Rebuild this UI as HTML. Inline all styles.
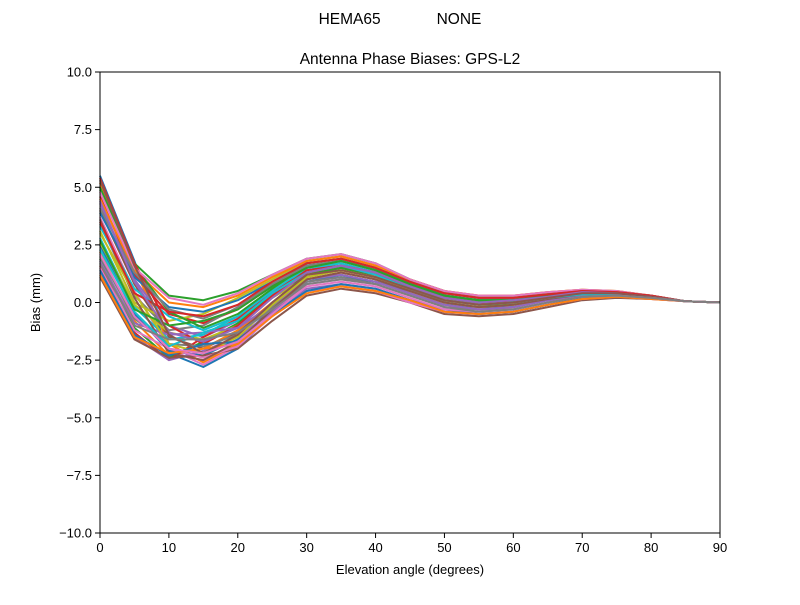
<!DOCTYPE html>
<html><head><meta charset="utf-8"><style>
body{margin:0;background:#fff;width:800px;height:600px;overflow:hidden}
text{font-family:"Liberation Sans","DejaVu Sans",sans-serif;fill:#000}
</style></head><body>
<svg id="chart" width="800" height="600" viewBox="0 0 800 600" xmlns="http://www.w3.org/2000/svg">
<rect width="800" height="600" fill="#fff"/>
<text x="400" y="24" text-anchor="middle" font-size="15.5" xml:space="preserve">HEMA65             NONE</text>
<text x="410" y="64" text-anchor="middle" font-size="15.5">Antenna Phase Biases: GPS-L2</text>
<g id="series"></g>
<rect x="100" y="72" width="620" height="461" fill="none" stroke="#000" stroke-width="1"/>
<g id="axes"></g>
<text x="410" y="574" text-anchor="middle" font-size="13">Elevation angle (degrees)</text>
<text transform="translate(40,302.5) rotate(-90)" text-anchor="middle" font-size="13">Bias (mm)</text>
</svg>
<script>
const elevations=[0,5,10,15,20,25,30,35,40,45,50,55,60,65,70,75,80,85,90];
const xTicks=[0,10,20,30,40,50,60,70,80,90];
const yTicks=[-10,-7.5,-5,-2.5,0,2.5,5,7.5,10];
const yTickLabels=["\u221210.0","\u22127.5","\u22125.0","\u22122.5","0.0","2.5","5.0","7.5","10.0"];
const s1=[5.5,1.8,-2.2,-2.8,-2.0,-0.5,0.9,1.1,0.9,0.5,0.1,-0.1,0.0,0.2,0.4,0.4,0.25,0.05,0];
const s2=[5.2,1.5,-1.8,-2.6,-1.8,-0.2,1.3,1.5,1.2,0.7,0.3,0.1,0.1,0.3,0.45,0.4,0.25,0.05,0];
const s3=[4.9,1.7,0.3,0.1,0.5,1.2,1.9,2.1,1.7,1.0,0.5,0.2,0.2,0.4,0.5,0.45,0.3,0.05,0];
const s4=[4.6,1.2,-0.5,-0.9,-0.3,0.7,1.7,1.9,1.5,0.9,0.4,0.2,0.2,0.35,0.5,0.45,0.3,0.05,0];
const s5=[4.3,1.0,-1.0,-1.5,-0.8,0.4,1.5,1.8,1.4,0.8,0.3,0.1,0.1,0.3,0.45,0.4,0.25,0.05,0];
const s6=[4.0,0.8,-1.5,-2.0,-1.3,0.0,1.2,1.5,1.2,0.7,0.2,0.0,0.0,0.2,0.4,0.4,0.25,0.05,0];
const s7=[3.7,0.5,-2.0,-2.7,-1.9,-0.4,0.8,1.0,0.8,0.3,-0.2,-0.3,-0.2,0.1,0.3,0.35,0.2,0.05,0];
const s8=[3.4,0.3,-1.2,-1.0,-0.2,0.8,1.6,1.8,1.4,0.8,0.3,0.1,0.1,0.3,0.45,0.4,0.25,0.05,0];
const s9=[3.1,0.0,-0.8,-0.5,0.2,1.0,1.8,2.0,1.6,1.0,0.5,0.3,0.3,0.45,0.55,0.5,0.3,0.05,0];
const s10=[2.8,-0.2,-1.6,-1.4,-0.6,0.5,1.4,1.7,1.3,0.7,0.2,0.0,0.0,0.25,0.4,0.4,0.25,0.05,0];
const s11=[2.5,-0.5,-2.1,-2.3,-1.6,-0.3,0.9,1.2,0.9,0.4,-0.1,-0.2,-0.2,0.1,0.3,0.35,0.2,0.05,0];
const s12=[2.2,-0.8,-2.3,-2.0,-1.2,0.0,1.0,1.3,1.0,0.5,0.0,-0.2,-0.1,0.15,0.35,0.35,0.2,0.05,0];
const s13=[1.9,-1.1,-2.4,-1.7,-0.9,0.3,1.2,1.5,1.1,0.6,0.1,-0.1,-0.1,0.2,0.35,0.35,0.2,0.05,0];
const s14=[1.6,-1.3,-2.5,-1.5,-0.7,0.5,1.3,1.6,1.2,0.6,0.1,-0.1,0.0,0.2,0.35,0.35,0.2,0.05,0];
const s15=[1.3,-1.5,-2.5,-2.1,-1.5,-0.4,0.6,0.8,0.6,0.1,-0.4,-0.5,-0.4,-0.1,0.2,0.3,0.2,0.05,0];
const s16=[1.1,-1.6,-2.4,-2.3,-2.0,-0.8,0.3,0.6,0.4,0.0,-0.5,-0.6,-0.5,-0.2,0.1,0.2,0.15,0.05,0];
const s17=[1.5,-1.2,-2.0,-2.4,-1.9,-0.6,0.5,0.7,0.5,0.0,-0.4,-0.5,-0.4,-0.1,0.15,0.25,0.15,0.05,0];
const s18=[2.0,-0.7,-1.8,-1.9,-1.4,-0.2,0.9,1.1,0.8,0.3,-0.2,-0.3,-0.3,0.0,0.25,0.3,0.2,0.05,0];
const s19=[2.6,-0.1,-1.3,-1.6,-1.0,0.2,1.1,1.4,1.1,0.5,0.0,-0.2,-0.1,0.15,0.35,0.35,0.2,0.05,0];
const s20=[3.3,0.6,-0.6,-1.2,-0.6,0.5,1.5,1.7,1.3,0.8,0.3,0.1,0.1,0.3,0.45,0.4,0.25,0.05,0];
const s21=[3.9,1.1,-0.2,-0.4,0.1,0.9,1.7,1.9,1.5,0.9,0.4,0.2,0.2,0.35,0.5,0.45,0.3,0.05,0];
const s22=[4.5,1.4,0.0,-0.2,0.3,1.1,1.8,2.0,1.6,1.0,0.5,0.3,0.3,0.45,0.55,0.5,0.3,0.05,0];
const s23=[5.0,1.6,-0.4,-1.1,-0.5,0.6,1.6,1.8,1.4,0.8,0.3,0.1,0.1,0.3,0.45,0.4,0.25,0.05,0];
const s24=[5.4,1.7,-1.0,-1.8,-1.0,0.3,1.4,1.6,1.3,0.7,0.2,0.0,0.0,0.25,0.4,0.4,0.25,0.05,0];
const s25=[1.8,-0.9,-1.4,-1.3,-1.1,-0.1,1.0,1.2,0.9,0.4,-0.1,-0.3,-0.2,0.1,0.3,0.3,0.2,0.05,0];
const s26=[3.6,0.2,-2.2,-2.5,-1.7,-0.3,1.0,1.3,1.0,0.5,0.0,-0.2,-0.1,0.15,0.35,0.35,0.2,0.05,0];
const s27=[4.8,1.5,0.2,-0.1,0.4,1.2,1.9,2.1,1.7,1.0,0.5,0.3,0.3,0.45,0.55,0.5,0.3,0.05,0];
const s28=[4.1,1.3,-0.3,-0.7,-0.1,0.8,1.6,1.8,1.4,0.9,0.4,0.2,0.2,0.35,0.5,0.45,0.3,0.05,0];
const s29=[3.0,0.4,-1.8,-2.2,-1.5,-0.1,1.1,1.4,1.1,0.6,0.1,-0.1,0.0,0.2,0.4,0.4,0.25,0.05,0];
const s30=[2.3,-0.4,-1.9,-1.3,-0.8,0.4,1.3,1.6,1.2,0.6,0.1,-0.1,0.0,0.2,0.35,0.35,0.2,0.05,0];
const s31=[1.4,-1.4,-2.3,-1.8,-1.7,-0.5,0.5,0.8,0.6,0.1,-0.3,-0.5,-0.4,-0.1,0.2,0.25,0.2,0.05,0];
const s32=[1.2,-1.5,-2.2,-2.0,-1.8,-0.6,0.4,0.7,0.5,0.1,-0.4,-0.5,-0.4,-0.1,0.15,0.25,0.15,0.05,0];
const s33=[2.7,-0.3,-1.0,-0.8,-0.3,0.7,1.5,1.8,1.4,0.8,0.3,0.1,0.1,0.3,0.45,0.4,0.25,0.05,0];
const s34=[3.5,0.4,-0.4,-0.6,-0.1,0.9,1.7,1.9,1.5,0.9,0.4,0.2,0.2,0.35,0.5,0.45,0.3,0.05,0];
const s35=[4.4,0.9,-1.3,-1.7,-1.1,0.2,1.3,1.6,1.3,0.7,0.2,0.0,0.1,0.25,0.45,0.4,0.25,0.05,0];
const s36=[5.3,1.6,-1.4,-2.2,-1.4,0.0,1.2,1.4,1.1,0.6,0.1,-0.1,0.0,0.2,0.4,0.4,0.25,0.05,0];
const s37=[2.1,-0.6,-2.0,-2.2,-1.7,-0.5,0.7,0.9,0.7,0.2,-0.3,-0.4,-0.3,0.0,0.25,0.3,0.2,0.05,0];
const s38=[1.7,-1.0,-1.6,-1.6,-1.3,-0.3,0.8,1.0,0.8,0.3,-0.2,-0.4,-0.3,0.0,0.25,0.3,0.2,0.05,0];
const seriesList=[s1,s2,s3,s4,s5,s6,s7,s8,s9,s10,s11,s12,s13,s14,s15,s16,s17,s18,s19,s20,s21,s22,s23,s24,s25,s26,s27,s28,s29,s30,s31,s32,s33,s34,s35,s36,s37,s38];
const colors=["#1f77b4","#ff7f0e","#2ca02c","#d62728","#9467bd","#8c564b","#e377c2","#7f7f7f","#bcbd22","#17becf"];
const NS="http://www.w3.org/2000/svg";
const X0=100,X1=720,Y0=533,Y1=72;
function xScale(v){return X0+(v-0)/(90-0)*(X1-X0);}
function yScale(v){return Y0-(v+10)/20*(Y0-Y1);}
const sg=document.getElementById('series');
seriesList.forEach((s,i)=>{
  const p=document.createElementNS(NS,'polyline');
  p.setAttribute('points',s.map((v,j)=>xScale(elevations[j]).toFixed(1)+','+yScale(v).toFixed(1)).join(' '));
  p.setAttribute('fill','none');
  p.setAttribute('stroke',colors[i%10]);
  p.setAttribute('stroke-width','2');
  p.setAttribute('stroke-linejoin','round');
  
  
  sg.appendChild(p);
});
const ag=document.getElementById('axes');
xTicks.forEach(t=>{
  const x=xScale(t);
  const l=document.createElementNS(NS,'line');
  l.setAttribute('x1',x);l.setAttribute('x2',x);l.setAttribute('y1',Y0);l.setAttribute('y2',Y0+5);
  l.setAttribute('stroke','#000');
  
  
  ag.appendChild(l);
  const tx=document.createElementNS(NS,'text');
  tx.setAttribute('x',x);tx.setAttribute('y',Y0+19);tx.setAttribute('text-anchor','middle');tx.setAttribute('font-size','13');
  tx.textContent=String(t);
  
  
  ag.appendChild(tx);
});
yTicks.forEach((t,i)=>{
  const y=yScale(t);
  const l=document.createElementNS(NS,'line');
  l.setAttribute('x1',X0-5);l.setAttribute('x2',X0);l.setAttribute('y1',y);l.setAttribute('y2',y);
  l.setAttribute('stroke','#000');
  
  
  ag.appendChild(l);
  const tx=document.createElementNS(NS,'text');
  tx.setAttribute('x',X0-8);tx.setAttribute('y',y+4.5);tx.setAttribute('text-anchor','end');tx.setAttribute('font-size','13');
  tx.textContent=yTickLabels[i];
  
  
  ag.appendChild(tx);
});
</script>
</body></html>
